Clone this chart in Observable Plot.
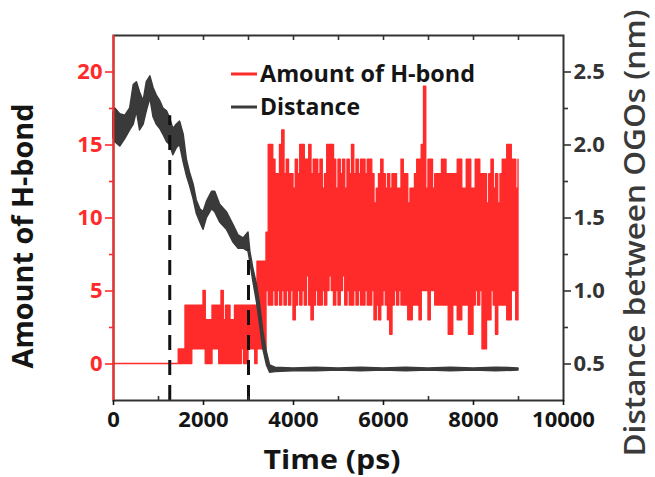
<!DOCTYPE html>
<html><head><meta charset="utf-8">
<script src="https://cdn.jsdelivr.net/npm/d3@7"></script>
<script src="https://cdn.jsdelivr.net/npm/@observablehq/plot@0.6"></script>
<style>html,body{margin:0;padding:0;background:#fff;overflow:hidden}</style>
</head><body><div id="chart"></div>
<script>
// ---- data ----
const hbStep = 50; // ps between H-bond samples, starting at t = 0
const hbHigh = [
 0,0,0,0,0,0,0,0,0,0, 0,0,0,0,0,0,0,0,0,0, 0,0,0,0,0,0,0,0,0,
 1,1,1,
 4,4,4,4,4,4,4,4,
 5, 3,3,3, 4,4,4,4, 5, 3, 4,4, 3,3,
 4,4,4,4,4,4,4,4,4,4,
 7,7,7,7, 9, 15,
 15,14,13,13,15,16,13,14,13,13,
 12,14,13,15,15,14,14,15,13,14,
 14,13,14,12,13,15,15,15,14,12,
 14,13,14,12,14,13,15,13,14,13,
 14,14,13,14,14,13,11,12,13,14,
 13,12,13,12,13,13,12,
 12,14,13,13,11,12,12,13,14,14,
 15,19,12,14,14,12,13,13,13,14,
 14,13,13,13,13,13,14,14,12,12,
 14,14,12,12,14,14,13,13,13,11,
 13,14,12,13,11,13,14,14,15,15,
 14,14,12,14
];
const hbLow = [
 0,0,0,0,0,0,0,0,0,0, 0,0,0,0,0,0,0,0,0,0, 0,0,0,0,0,0,0,0,0,
 0,0,0,
 0,0,0, 1,1,1,1,1,
 1, 0,0,0, 1,1,1,
 0,0,0,0,0,0,0,0,0,0,
 1, 0,0, 1,1,1, 0,
 1,1,1,1, 5, 4,
 4,5,4,5,4,5,4,5,4,5,
 3,4,5,4,5,4,6,4,3,4,
 5,4,4,5,4,5,6,5,4,5,
 4,5,6,4,5,4,4,5,4,5,
 4,4,5,4,4,5,3,4,3,4,
 5,4,3,2,4,5,4,
 5,4,4,4,3,3,4,4,4,3,
 5,5,5,3,5,5,4,4,4,4,
 4,4,2,2,4,4,3,3,4,4,
 4,2,2,4,5,4,5,1,1,3,
 3,5,4,2,4,4,4,4,3,3,
 5,5,3,3
];
const distTime = [0,40,150,260,370,450,520,590,670,740,820,890,960,1040,1110,1190,1260,1330,1410,1480,1560,1630,1700,1780,1850,1930,2000,2075,2190,2260,2370,2520,2670,2780,2890,3000,3040,3110,3190,3260,3330,3410,3480,3600,4000,4500,5000,5500,6000,6500,7000,7500,8000,8500,9000];
const distLo   = [2.05,2.02,1.99,2.04,2.10,2.14,2.23,2.10,2.14,2.23,2.32,2.19,2.14,2.11,2.07,2.02,2.00,1.93,1.98,2.00,1.88,1.79,1.72,1.63,1.53,1.47,1.42,1.50,1.56,1.54,1.47,1.42,1.33,1.29,1.29,1.27,1.20,1.06,0.92,0.76,0.60,0.49,0.44,0.445,0.45,0.45,0.455,0.45,0.455,0.45,0.455,0.45,0.455,0.45,0.455];
const distHi   = [2.22,2.25,2.21,2.20,2.25,2.41,2.43,2.36,2.30,2.43,2.47,2.39,2.34,2.30,2.25,2.23,2.18,2.11,2.14,2.16,2.07,1.90,1.81,1.73,1.62,1.56,1.54,1.61,1.68,1.68,1.59,1.54,1.45,1.38,1.36,1.40,1.27,1.15,1.04,0.90,0.72,0.58,0.49,0.475,0.47,0.475,0.47,0.475,0.47,0.475,0.47,0.475,0.47,0.475,0.47];
const dashTime = [1250, 3000];
const dashDist = [2.2, 1.28];
const xTicks = [0, 2000, 4000, 6000, 8000, 10000];
const xMinor = [1000, 3000, 5000, 7000, 9000];
const topTicks = [1000, 2000, 3000, 4000, 5000, 6000, 7000, 8000, 9000];
const leftTicks = [0, 5, 10, 15, 20];
const leftMinor = [2.5, 7.5, 12.5, 17.5];
const rightTicks = [0.5, 1.0, 1.5, 2.0, 2.5];
const rightMinor = [0.75, 1.25, 1.75, 2.25];
const seriesNames = ["Amount of H-bond", "Distance"];
const xTitle = "Time (ps)";
const leftTitle = "Amount of H-bond";
const rightTitle = "Distance between OGOs (nm)";

// ---- drawing ----
const red = "#ff2b2b";
const gray = "#3a3a3a";
const font = "'Open Sans', sans-serif";
const toLeft = r => (r - 0.5) * 10; // right axis (nm) -> left axis units

const hb = hbHigh.map((h, i) => ({t: i * hbStep, hi: h, lo: hbLow[i]}));
const dist = distTime.map((t, i) => ({t, lo: toLeft(distLo[i]), hi: toLeft(distHi[i])}));
const dashes = dashTime.map((t, i) => ({t, top: toLeft(dashDist[i])}));

const W = 655, H = 477, mL = 113, mR = 92, mT = 35, mB = 77;
const frameH = H - mT - mB;

const chart = Plot.plot({
  width: W, height: H, marginLeft: mL, marginRight: mR, marginTop: mT, marginBottom: mB,
  style: {fontFamily: font, background: "#fff", overflow: "visible"},
  x: {domain: [0, 10000], label: null},
  y: {domain: [-2.5, 22.5], label: null},
  marks: [
    Plot.areaY(hb, {x: "t", y1: "lo", y2: "hi", curve: "step-after", fill: red, stroke: red, strokeWidth: 1.4}),
    Plot.areaY(dist, {x: "t", y1: "lo", y2: "hi", fill: gray, stroke: gray, strokeWidth: 1.5}),
    Plot.ruleX(dashes, {x: "t", y1: -2.5, y2: "top", stroke: "#111", strokeWidth: 3, strokeDasharray: "15,10"}),
    Plot.frame({stroke: "#333", strokeWidth: 2}),
    Plot.ruleX([0], {stroke: red, strokeWidth: 2}),
    Plot.tickX(xMinor, {x: d => d, insetTop: frameH - 4, stroke: "#333", strokeWidth: 1.6}),
    Plot.tickX(topTicks, {x: d => d, insetBottom: frameH - 5, stroke: "#333", strokeWidth: 1.6}),
    Plot.axisX(xTicks, {anchor: "bottom", tickSize: 5, tickPadding: 6, fontSize: 22, fontWeight: "bold", color: "#151515", strokeWidth: 1.6,
      tickFormat: d => String(d), label: null}),
    Plot.axisY(leftTicks, {anchor: "left", tickSize: 8, tickPadding: 3, fontSize: 22, fontWeight: "bold", color: red, strokeWidth: 1.6,
      tickFormat: d => String(d), label: null}),
    Plot.axisY(leftMinor, {anchor: "left", tickSize: 4, tickFormat: () => "", color: red, strokeWidth: 1.6, label: null}),
    Plot.axisY(rightTicks.map(toLeft), {anchor: "right", tickSize: 7, tickPadding: 3, fontSize: 22, fontWeight: "bold", color: "#333", strokeWidth: 1.6,
      tickFormat: (d, i) => rightTicks[i].toFixed(1), label: null}),
    Plot.axisY(rightMinor.map(toLeft), {anchor: "right", tickSize: 4, tickFormat: () => "", color: "#333", strokeWidth: 1.6, label: null})
  ]
});
document.getElementById("chart").append(chart);

const svg = d3.select(chart);
function addText(str, x, y, size, weight, color, len, rot) {
  const t = svg.append("text").text(str)
    .attr("font-family", font).attr("font-size", size).attr("font-weight", weight)
    .attr("fill", color).attr("text-anchor", rot ? "middle" : "start");
  if (rot) t.attr("transform", `translate(${x},${y}) rotate(${rot})`);
  else t.attr("x", x).attr("y", y);
  if (len) t.attr("textLength", len).attr("lengthAdjust", "spacingAndGlyphs");
  return t;
}
// axis titles
addText(xTitle, 332, 469, 27, "bold", "#151515", 137, 0).attr("text-anchor", "middle").attr("x", 332);
addText(leftTitle, 33, 236, 28, "bold", "#151515", 265, -90);
addText(rightTitle, 645, 233, 28, 600, "#3a3a3a", 447, -90);
// legend
const legColors = [red, gray];
const legY = [74, 107];
const legTextLen = [215, 100];
seriesNames.forEach((name, i) => {
  svg.append("line").attr("x1", 231).attr("x2", 257).attr("y1", legY[i]).attr("y2", legY[i])
    .attr("stroke", legColors[i]).attr("stroke-width", 3);
  addText(name, 260, legY[i] + 8, 24, "bold", "#151515", legTextLen[i], 0);
});
</script>
</body></html>
